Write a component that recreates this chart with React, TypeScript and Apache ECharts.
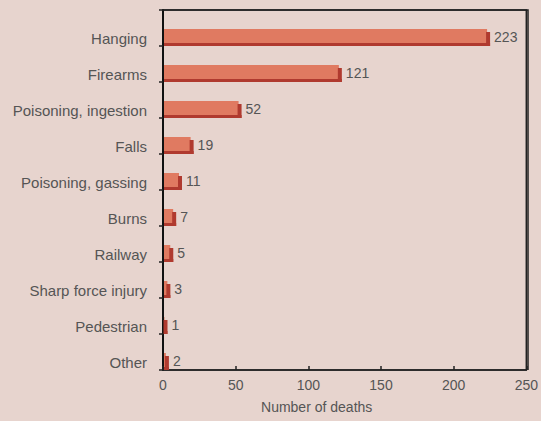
import React, { useEffect, useRef } from "react";
import * as echarts from "echarts";

const categories = [
  "Hanging",
  "Firearms",
  "Poisoning, ingestion",
  "Falls",
  "Poisoning, gassing",
  "Burns",
  "Railway",
  "Sharp force injury",
  "Pedestrian",
  "Other",
];
const deaths = [223, 121, 52, 19, 11, 7, 5, 3, 1, 2];
const xTicks = { min: 0, max: 250, interval: 50 };

const BG = "#e7d4ce";
const FACE = "#e07a61";
const DARK = "#b03a2f";
const TEXT = "#555";
const FONT = "'Liberation Sans', Arial, sans-serif";

const W = 541;
const H = 421;
const GRID = { left: 163, right: 13, top: 10, bottom: 51 };

export default function App() {
  const ref = useRef<HTMLDivElement>(null);
  useEffect(() => {
    if (!ref.current) return;
    const chart = echarts.init(ref.current, undefined, { renderer: "svg" });
    const data = deaths.map((v, i) => [v, i]);
    chart.setOption({
      animation: false,
      backgroundColor: BG,
      grid: { ...GRID, show: true, borderColor: "#222", borderWidth: 1.5, backgroundColor: "transparent" },
      graphic: [
        {
          type: "polyline",
          z: 100,
          silent: true,
          shape: {
            points: [
              [GRID.left, GRID.top],
              [W - GRID.right, GRID.top],
              [W - GRID.right, H - GRID.bottom],
            ],
          },
          style: { fill: null, stroke: "#222", lineWidth: 1.5 },
        },
      ],
      xAxis: {
        type: "value",
        min: xTicks.min,
        max: xTicks.max,
        interval: xTicks.interval,
        splitLine: { show: false },
        axisLine: { show: true, onZero: false, lineStyle: { color: "#222", width: 1.5 } },
        axisTick: { show: true, inside: true, length: 4, lineStyle: { color: "#222", width: 1.5 } },
        axisLabel: { color: TEXT, fontSize: 14, fontFamily: FONT, margin: 8 },
        name: "Number of deaths",
        nameLocation: "middle",
        nameGap: 30,
        nameTextStyle: { color: TEXT, fontSize: 14, fontFamily: FONT, padding: [0, 56, 0, 0] },
      },
      yAxis: {
        type: "category",
        data: categories,
        inverse: true,
        boundaryGap: true,
        axisLine: { show: true, onZero: false, lineStyle: { color: "#111", width: 2 } },
        axisTick: { show: true, inside: false, length: 4, lineStyle: { color: "#222", width: 1.5 } },
        axisLabel: {
          color: TEXT,
          fontSize: 15,
          fontFamily: FONT,
          margin: 16,
          verticalAlign: "top",
          lineHeight: 20,
        },
      },
      series: [
        {
          type: "custom",
          data,
          encode: { x: 0, y: 1 },
          renderItem: (params: any, api: any) => {
            const v = api.value(0);
            const idx = api.value(1);
            const start = api.coord([0, idx]);
            const end = api.coord([v, idx]);
            const band = api.size([0, 1])[1];
            const bottom = start[1] + band / 2;
            const h = 17;
            const top = bottom - h;
            const x0 = start[0] + 1;
            const x1 = end[0];
            const w = Math.max(x1 - x0, 0.5);
            return {
              type: "group",
              children: [
                {
                  type: "rect",
                  shape: { x: x0, y: top, width: w, height: h - 3 },
                  style: { fill: FACE },
                },
                {
                  type: "rect",
                  shape: { x: x0, y: bottom - 3, width: w + 3, height: 3 },
                  style: { fill: DARK },
                },
                {
                  type: "rect",
                  shape: { x: x0 + w - 1, y: top + 3, width: 4, height: h - 3 },
                  style: { fill: DARK },
                },
                {
                  type: "text",
                  style: {
                    x: x0 + w + 7,
                    y: top + h / 2 - 1,
                    text: String(v),
                    fill: TEXT,
                    fontSize: 14,
                    fontFamily: FONT,
                    verticalAlign: "middle",
                    align: "left",
                  },
                },
              ],
            };
          },
        },
      ],
    });
    return () => chart.dispose();
  }, []);
  return <div ref={ref} style={{ width: W, height: H, position: "absolute", left: 0, top: 0 }} />;
}
